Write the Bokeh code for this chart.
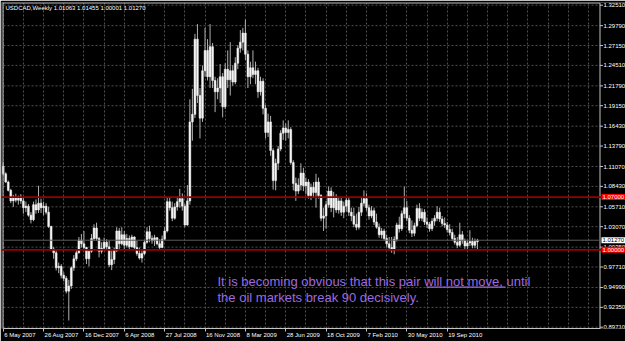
from bokeh.plotting import figure
from bokeh.models import (Range1d, FixedTicker, Span, Label, BoxAnnotation, ColumnDataSource)
from bokeh.core.properties import value
from bokeh.embed import file_html
from bokeh.resources import INLINE

# ---------------- data ----------------
symbol = "USDCAD,Weekly"
last_bar_ohlc = ["1.01063", "1.01455", "1.00001", "1.01270"]

opens = [
    1.1110, 1.1010, 1.0900, 1.0790, 1.0650, 1.0690, 1.0660, 1.0700, 1.0650, 1.0560,
    1.0580, 1.0460, 1.0400, 1.0600, 1.0530, 1.0620, 1.0560, 1.0580, 1.0500, 1.0310,
    1.0010, 0.9960, 0.9760, 0.9780, 0.9660, 0.9620, 0.9450, 0.9520, 0.9760, 0.9880,
    0.9960, 1.0130, 1.0080, 1.0030, 0.9880, 0.9980, 1.0150, 1.0290, 1.0150, 0.9980,
    1.0020, 1.0100, 1.0040, 0.9800, 0.9870, 0.9990, 1.0250, 1.0080, 1.0200, 1.0060,
    1.0150, 1.0040, 1.0170, 1.0030, 0.9950, 0.9890, 0.9950, 1.0100, 1.0240, 1.0150,
    1.0120, 1.0160, 1.0080, 1.0030, 1.0140, 1.0250, 1.0640, 1.0560, 1.0420, 1.0570,
    1.0640, 1.0680, 1.0580, 1.0330, 1.0650, 1.1700, 1.1800, 1.2800, 1.2050, 1.1750,
    1.2380, 1.2650, 1.2300, 1.2700, 1.2250, 1.2100, 1.2150, 1.2300, 1.1900, 1.2400,
    1.2260, 1.2380, 1.2230, 1.2480, 1.2680, 1.2760, 1.2880, 1.2600, 1.2300, 1.2420,
    1.2330, 1.2380, 1.2100, 1.2240, 1.1880, 1.1560, 1.1700, 1.1320, 1.0920, 1.1150,
    1.1340, 1.1550, 1.1620, 1.1560, 1.1600, 1.1160, 1.0880, 1.0780, 1.0860, 1.1020,
    1.0850, 1.0900, 1.0720, 1.0830, 1.0760, 1.0900, 1.0720, 1.0420, 1.0450, 1.0600,
    1.0780, 1.0560, 1.0700, 1.0530, 1.0650, 1.0500, 1.0580, 1.0660, 1.0500, 1.0450,
    1.0340, 1.0300, 1.0500, 1.0620, 1.0680, 1.0560, 1.0450, 1.0520, 1.0370, 1.0300,
    1.0200, 1.0250, 1.0150, 1.0080, 1.0030, 1.0000, 1.0140, 1.0330, 1.0280, 1.0480,
    1.0560, 1.0420, 1.0260, 1.0220, 1.0320, 1.0550, 1.0420, 1.0500, 1.0370, 1.0340,
    1.0280, 1.0380, 1.0420, 1.0500, 1.0410, 1.0350, 1.0330, 1.0270, 1.0230, 1.0150,
    1.0100, 1.0060, 1.0200, 1.0120, 1.0050, 1.0090, 1.0110, 1.0060, 1.01063,
]
highs = [
    1.1165, 1.1030, 1.0920, 1.0810, 1.0730, 1.0745, 1.0720, 1.0740, 1.0690, 1.0640,
    1.0610, 1.0500, 1.0640, 1.0670, 1.0850, 1.0680, 1.0640, 1.0620, 1.0570, 1.0320,
    1.0040, 0.9990, 0.9830, 0.9810, 0.9700, 0.9650, 0.9600, 0.9780, 0.9930, 1.0000,
    1.0170, 1.0210, 1.0250, 1.0040, 1.0010, 1.0210, 1.0340, 1.0360, 1.0170, 1.0100,
    1.0160, 1.0140, 1.0120, 0.9990, 1.0030, 1.0300, 1.0290, 1.0300, 1.0250, 1.0210,
    1.0190, 1.0200, 1.0180, 1.0120, 1.0030, 0.9990, 1.0130, 1.0300, 1.0320, 1.0190,
    1.0200, 1.0170, 1.0140, 1.0190, 1.0300, 1.0700, 1.0700, 1.0640, 1.0620, 1.0710,
    1.0810, 1.0750, 1.0610, 1.0860, 1.2000, 1.2140, 1.2870, 1.3000, 1.2150, 1.2450,
    1.2950, 1.2800, 1.3000, 1.2750, 1.2300, 1.2280, 1.2470, 1.2350, 1.2480, 1.2650,
    1.2760, 1.2450, 1.2560, 1.2720, 1.2920, 1.2950, 1.3060, 1.2650, 1.2500, 1.2650,
    1.2500, 1.2420, 1.2300, 1.2280, 1.1930, 1.1810, 1.1780, 1.1350, 1.1210, 1.1380,
    1.1590, 1.1720, 1.1680, 1.1720, 1.1630, 1.1190, 1.0960, 1.0950, 1.1150, 1.1090,
    1.0960, 1.0940, 1.0880, 1.0900, 1.1010, 1.0960, 1.0740, 1.0560, 1.0650, 1.0840,
    1.0830, 1.0770, 1.0740, 1.0700, 1.0690, 1.0640, 1.0700, 1.0690, 1.0560, 1.0560,
    1.0480, 1.0570, 1.0690, 1.0790, 1.0750, 1.0600, 1.0580, 1.0560, 1.0480, 1.0350,
    1.0290, 1.0280, 1.0200, 1.0170, 1.0170, 1.0180, 1.0360, 1.0440, 1.0520, 1.0840,
    1.0650, 1.0460, 1.0390, 1.0360, 1.0600, 1.0620, 1.0550, 1.0540, 1.0430, 1.0370,
    1.0420, 1.0460, 1.0580, 1.0560, 1.0450, 1.0430, 1.0370, 1.0340, 1.0280, 1.0200,
    1.0170, 1.0360, 1.0250, 1.0150, 1.0130, 1.0260, 1.0160, 1.0150, 1.01455,
]
lows = [
    1.0990, 1.0890, 1.0775, 1.0620, 1.0570, 1.0630, 1.0600, 1.0610, 1.0480, 1.0500,
    1.0440, 1.0350, 1.0380, 1.0480, 1.0490, 1.0490, 1.0460, 1.0470, 1.0290, 0.9990,
    0.9880, 0.9725, 0.9690, 0.9620, 0.9580, 0.9420, 0.9060, 0.9480, 0.9720, 0.9850,
    0.9950, 1.0030, 0.9990, 0.9810, 0.9780, 0.9960, 1.0120, 1.0120, 0.9900, 0.9950,
    0.9990, 1.0000, 0.9770, 0.9730, 0.9810, 0.9970, 1.0000, 1.0060, 1.0000, 1.0030,
    1.0010, 1.0030, 1.0000, 0.9920, 0.9870, 0.9830, 0.9930, 1.0080, 1.0100, 1.0080,
    1.0050, 1.0060, 1.0000, 1.0020, 1.0130, 1.0230, 1.0520, 1.0380, 1.0400, 1.0520,
    1.0560, 1.0520, 1.0300, 1.0320, 1.0600, 1.1450, 1.1750, 1.1950, 1.1480, 1.1700,
    1.2300, 1.2250, 1.2150, 1.2150, 1.1830, 1.2000, 1.1950, 1.1760, 1.1870, 1.2150,
    1.2050, 1.2180, 1.2200, 1.2400, 1.2620, 1.2650, 1.2520, 1.2150, 1.2200, 1.2280,
    1.2200, 1.2020, 1.2050, 1.1800, 1.1480, 1.1500, 1.1250, 1.0800, 1.0790, 1.1060,
    1.1310, 1.1460, 1.1450, 1.1480, 1.1130, 1.0790, 1.0650, 1.0740, 1.0790, 1.0780,
    1.0740, 1.0680, 1.0660, 1.0700, 1.0560, 1.0680, 1.0380, 1.0250, 1.0280, 1.0560,
    1.0500, 1.0430, 1.0490, 1.0480, 1.0450, 1.0420, 1.0510, 1.0450, 1.0380, 1.0300,
    1.0260, 1.0270, 1.0450, 1.0580, 1.0520, 1.0400, 1.0420, 1.0330, 1.0280, 1.0160,
    1.0150, 1.0120, 1.0040, 0.9990, 0.9960, 0.9940, 1.0110, 1.0230, 1.0250, 1.0420,
    1.0380, 1.0220, 1.0170, 1.0180, 1.0300, 1.0380, 1.0380, 1.0330, 1.0290, 1.0240,
    1.0250, 1.0320, 1.0380, 1.0370, 1.0310, 1.0290, 1.0230, 1.0190, 1.0120, 1.0070,
    1.0020, 1.0040, 1.0080, 1.0010, 1.0000, 1.0050, 1.0020, 1.0020, 1.00001,
]
closes = [
    1.1010, 1.0900, 1.0790, 1.0650, 1.0690, 1.0660, 1.0700, 1.0650, 1.0560, 1.0580,
    1.0460, 1.0400, 1.0600, 1.0530, 1.0620, 1.0560, 1.0580, 1.0500, 1.0310, 1.0010,
    0.9960, 0.9760, 0.9780, 0.9660, 0.9620, 0.9450, 0.9520, 0.9760, 0.9880, 0.9960,
    1.0130, 1.0080, 1.0030, 0.9880, 0.9980, 1.0150, 1.0290, 1.0150, 0.9980, 1.0020,
    1.0100, 1.0040, 0.9800, 0.9870, 0.9990, 1.0250, 1.0080, 1.0200, 1.0060, 1.0150,
    1.0040, 1.0170, 1.0030, 0.9950, 0.9890, 0.9950, 1.0100, 1.0240, 1.0150, 1.0120,
    1.0160, 1.0080, 1.0030, 1.0140, 1.0250, 1.0640, 1.0560, 1.0420, 1.0570, 1.0640,
    1.0680, 1.0580, 1.0330, 1.0650, 1.1700, 1.1800, 1.2800, 1.2050, 1.1750, 1.2380,
    1.2650, 1.2300, 1.2700, 1.2250, 1.2100, 1.2150, 1.2300, 1.1900, 1.2400, 1.2260,
    1.2380, 1.2230, 1.2480, 1.2680, 1.2760, 1.2880, 1.2600, 1.2300, 1.2420, 1.2330,
    1.2380, 1.2100, 1.2240, 1.1880, 1.1560, 1.1700, 1.1320, 1.0920, 1.1150, 1.1340,
    1.1550, 1.1620, 1.1560, 1.1600, 1.1160, 1.0880, 1.0780, 1.0860, 1.1020, 1.0850,
    1.0900, 1.0720, 1.0830, 1.0760, 1.0900, 1.0720, 1.0420, 1.0450, 1.0600, 1.0780,
    1.0560, 1.0700, 1.0530, 1.0650, 1.0500, 1.0580, 1.0660, 1.0500, 1.0450, 1.0340,
    1.0300, 1.0500, 1.0620, 1.0680, 1.0560, 1.0450, 1.0520, 1.0370, 1.0300, 1.0200,
    1.0250, 1.0150, 1.0080, 1.0030, 1.0000, 1.0140, 1.0330, 1.0280, 1.0480, 1.0560,
    1.0420, 1.0260, 1.0220, 1.0320, 1.0550, 1.0420, 1.0500, 1.0370, 1.0340, 1.0280,
    1.0380, 1.0420, 1.0500, 1.0410, 1.0350, 1.0330, 1.0270, 1.0230, 1.0150, 1.0100,
    1.0060, 1.0200, 1.0120, 1.0050, 1.0090, 1.0110, 1.0060, 1.0110, 1.01270,
]
weeks = list(range(len(closes)))  # week index, week 0 = 6 May 2007

date_tick_weeks = [0, 16, 32, 48, 64, 80, 96, 112, 128, 144, 160, 176]
date_tick_labels = ["6 May 2007", "26 Aug 2007", "16 Dec 2007", "6 Apr 2008",
                    "27 Jul 2008", "16 Nov 2008", "8 Mar 2009", "28 Jun 2009",
                    "18 Oct 2009", "7 Feb 2010", "30 May 2010", "19 Sep 2010"]
grid_weeks = list(range(0, 233, 8))

price_ticks = [1.32510, 1.29790, 1.27150, 1.24510, 1.21790, 1.19150, 1.16430,
               1.13790, 1.11070, 1.08430, 1.05710, 1.03070, 1.00350, 0.97710,
               0.94990, 0.92350, 0.89710]

level_high = 1.07000
level_low = 1.00000
bid_price = 1.01270

note_line1 = "It is becoming obvious that this pair will not move, until"
note_line2 = "the oil markets break 90 decisively."

# ---------------- layout constants ----------------
FONT = "Liberation Sans"
AXIS_COL = "#c4c4c4"
GRID_COL = "#505050"
NOTE_COL = "#9d6ae0"

PX_PER_WEEK = 2.5227      # horizontal scale of the chart
WEEK0_PX = 2.7            # canvas x of week 0
PRICE_AT_PX0 = 1.33135    # price at canvas y = 0
PRICE_PER_PX = 0.0013292  # vertical scale of the chart
CHART_RIGHT = 599.5       # canvas x of the price-scale line


def wk(px):
    """canvas x pixel -> week coordinate"""
    return (px - WEEK0_PX) / PX_PER_WEEK


def pr(py):
    """canvas y pixel -> price coordinate"""
    return PRICE_AT_PX0 - py * PRICE_PER_PX


# approximate advance widths (em) of Liberation Sans, used to left-align date labels
CHAR_EM = {" ": 0.278, "M": 0.833, "A": 0.667, "D": 0.722, "J": 0.5, "N": 0.722,
           "O": 0.778, "F": 0.611, "S": 0.667, "a": 0.556, "y": 0.5, "u": 0.556,
           "g": 0.556, "e": 0.556, "c": 0.5, "p": 0.556, "r": 0.333, "l": 0.222,
           "o": 0.556, "v": 0.5, "t": 0.278, "b": 0.556, "n": 0.556}


def text_px(s, size=6.0):
    return size * sum(CHAR_EM.get(ch, 0.556) for ch in s)


p = figure(width=625, height=341,
           x_range=Range1d(wk(1), wk(625)), y_range=Range1d(pr(328), pr(2)),
           y_axis_location=None, output_backend="svg", toolbar_location=None,
           background_fill_color="#000000", border_fill_color="#000000",
           min_border_left=1, min_border_right=0, min_border_top=2, min_border_bottom=13)
p.outline_line_color = None

# ---- grid (vertical lines via Bokeh grid, horizontal lines stop at the price scale)
p.xgrid.ticker = FixedTicker(ticks=grid_weeks)
p.xgrid.grid_line_color = GRID_COL
p.xgrid.grid_line_dash = "2 2"
p.ygrid.visible = False
hgrid = ColumnDataSource(dict(y=price_ticks))
p.segment(x0=wk(3), x1=wk(CHART_RIGHT), y0="y", y1="y", source=hgrid,
          line_color=GRID_COL, line_dash="2 2", line_width=1)

# ---- bottom date axis: tick marks at the dates, labels left-aligned after them
label_pos = [round(w + (1.0 + text_px(lab) / 2.0) / PX_PER_WEEK, 3)
             for w, lab in zip(date_tick_weeks, date_tick_labels)]
xa = p.xaxis[0]
xa.ticker = FixedTicker(ticks=label_pos, minor_ticks=date_tick_weeks)
xa.major_label_overrides = {pos: lab for pos, lab in zip(label_pos, date_tick_labels)}
xa.bounds = (wk(2.5), wk(CHART_RIGHT))
xa.major_label_text_font = FONT
xa.major_label_text_font_size = "6px"
xa.major_label_text_color = "#ffffff"
xa.major_label_standoff = 0
xa.major_tick_out = 3
xa.major_tick_in = 0
xa.major_tick_line_color = None
xa.minor_tick_out = 3
xa.minor_tick_in = 0
xa.minor_tick_line_color = AXIS_COL
xa.axis_line_color = AXIS_COL

# ---- chart border (left, top) and price scale (right)
p.add_layout(Span(location=wk(2.5), dimension="height", line_color=AXIS_COL, line_width=1))
p.segment(x0=[wk(2.5)], x1=[wk(CHART_RIGHT)], y0=[pr(2.5)], y1=[pr(2.5)],
          line_color=AXIS_COL, line_width=1)
p.segment(x0=[wk(CHART_RIGHT)], x1=[wk(CHART_RIGHT)], y0=[pr(2.5)], y1=[pr(328)],
          line_color=AXIS_COL, line_width=1)
ysrc = ColumnDataSource(dict(y=price_ticks, text=["%.5f" % v for v in price_ticks]))
p.segment(x0=wk(CHART_RIGHT), x1=wk(CHART_RIGHT + 3), y0="y", y1="y", source=ysrc,
          line_color=AXIS_COL, line_width=1)
p.text(x=wk(CHART_RIGHT + 3.5), y="y", text="text", source=ysrc,
       text_font=value(FONT), text_font_size=value("6px"), text_color="#ffffff",
       text_align="left", text_baseline="middle")

# ---- candles
src = ColumnDataSource(dict(
    x=weeks, open=opens, high=highs, low=lows, close=closes,
    top=[max(o, c) for o, c in zip(opens, closes)],
    bottom=[min(o, c) for o, c in zip(opens, closes)],
))
p.segment(x0="x", y0="low", x1="x", y1="high", source=src,
          line_color="#b0b0b0", line_width=1)
p.vbar(x="x", width=0.72, top="top", bottom="bottom", source=src,
       fill_color="#f4f4f4", line_color="#f4f4f4", line_width=0.5)

# ---- horizontal levels
p.add_layout(Span(location=bid_price, dimension="width", line_color="#5a5a5a", line_width=1))
p.add_layout(Span(location=level_high, dimension="width", line_color="#980000", line_width=1.8))
p.add_layout(Span(location=level_low, dimension="width", line_color="#980000", line_width=1.8))

# ---- price tags on the price scale
for price, bg, fg in ((level_high, "#ff0000", "#ffffff"),
                      (bid_price, "#ffffff", "#000000"),
                      (level_low, "#ff0000", "#ffffff")):
    p.add_layout(Label(x=wk(CHART_RIGHT + 1.5), y=price,
                       text="%.5f" % price, text_font=FONT, text_font_size="6px",
                       text_color=fg, text_baseline="middle", text_align="left",
                       background_fill_color=bg, padding=1))

# ---- header
p.add_layout(Label(x=wk(5), y=pr(7.5),
                   text=symbol + "  " + " ".join(last_bar_ohlc),
                   text_font=FONT, text_font_size="6px", text_color="#ffffff",
                   text_baseline="middle"))

# ---- note (underline under "will not move,")
p.add_layout(Label(x=wk(217), y=pr(280.5), text=note_line1,
                   text_font=FONT, text_font_size="13px", text_color=NOTE_COL,
                   text_baseline="middle"))
p.add_layout(Label(x=wk(217), y=pr(296.5), text=note_line2,
                   text_font=FONT, text_font_size="13px", text_color=NOTE_COL,
                   text_baseline="middle"))
p.add_layout(BoxAnnotation(left=wk(426), right=wk(505), top=pr(286), bottom=pr(287.2),
                           fill_color=NOTE_COL, fill_alpha=1.0, line_alpha=0))

open("out.html", "w").write(file_html(p, INLINE))
